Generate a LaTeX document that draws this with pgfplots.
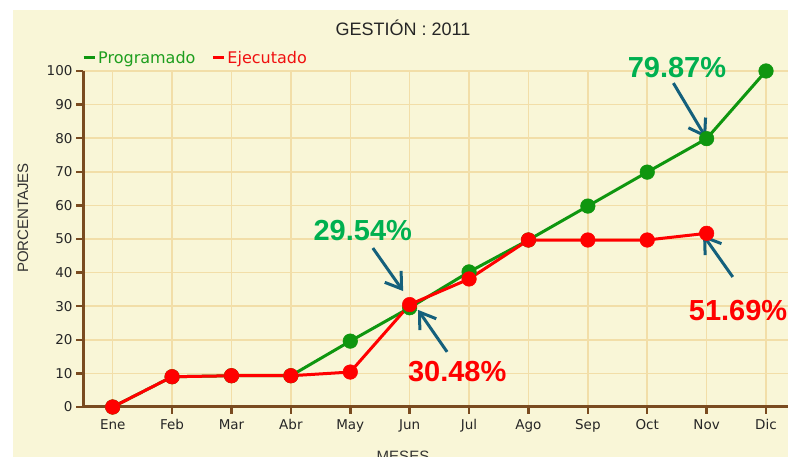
\documentclass[border=0pt]{standalone}
\usepackage{fontspec}
\setmainfont{DejaVu Sans}
\newfontfamily\arialfont{Liberation Sans}
\usepackage{pgfplots}
\pgfplotsset{compat=1.18}
\usetikzlibrary{arrows.meta}
\definecolor{bgcream}{HTML}{F9F6D7}
\definecolor{gridc}{HTML}{F2DEA8}
\definecolor{axbrown}{HTML}{7A4B20}
\definecolor{pgreen}{HTML}{0F960F}
\definecolor{pred}{HTML}{FF0000}
\definecolor{anngreen}{HTML}{00B050}
\definecolor{arrowc}{HTML}{14607C}
\definecolor{legred}{HTML}{F01010}
\definecolor{leggreen}{HTML}{1E9E1E}
\pgfplotstableread{
x prog ejec
0 0 0
1 9 9
2 9.3 9.3
3 9.3 9.3
4 19.6 10.4
5 29.54 30.48
6 40.2 38.1
7 49.7 49.7
8 59.8 49.7
9 69.9 49.7
10 79.87 51.69
11 100 nan
}\datatable
\begin{document}
\begin{tikzpicture}
\useasboundingbox (0pt,0pt) rectangle (788pt,457pt);
\fill[white] (0pt,0pt) rectangle (788pt,457pt);
\fill[bgcream] (13pt,0pt) rectangle (788pt,447pt);
\node[font=\arialfont\fontsize{18}{20}\selectfont, text=black!85] at (403pt,429pt) {GESTIÓN : 2011};
\node[font=\arialfont\fontsize{15}{17}\selectfont, text=black!80, rotate=90] at (23pt,239pt) {PORCENTAJES};
\node[font=\arialfont\fontsize{15}{17}\selectfont, text=black!80, anchor=north] at (403pt,10pt) {MESES};
\begin{axis}[
  at={(83pt,50pt)}, anchor=south west,
  scale only axis, width=705pt, height=336pt,
  xmin=-0.5, xmax=11.37, ymin=0, ymax=100,
  xtick={0,...,11},
  xticklabels={Ene,Feb,Mar,Abr,May,Jun,Jul,Ago,Sep,Oct,Nov,Dic},
  ytick={0,10,...,100},
  axis lines=left,
  axis line style={-, draw=axbrown, line width=3pt},
  grid=major,
  major grid style={draw=gridc, line width=1.5pt},
  tick style={draw=axbrown, line width=2.5pt},
  major tick length=7pt,
  tick align=outside,
  ticklabel style={font=\fontsize{13.5}{15}\selectfont, text=black!85},
  /pgf/number format/assume math mode=true,
  xticklabel style={yshift=-2pt},
  clip=false,
  legend columns=2,
  legend style={at={(0,1)}, anchor=south west, draw=none, fill=none,
    xshift=-1pt, yshift=4pt, inner sep=0pt,
    font=\fontsize{16}{18}\selectfont,
    /tikz/every even column/.append style={column sep=14pt}},
  legend cell align=left,
  legend image code/.code={\draw[#1,line width=3pt] (0pt,0pt) -- (11pt,0pt);},
]
\addplot[pgreen, line width=3pt, mark=*, mark size=7.3pt, mark options={solid, fill=pgreen, draw=pgreen, line width=0.5pt}] table[x=x,y=prog] {\datatable};
\addlegendentry{\textcolor{leggreen}{Programado}}
\addplot[pred, line width=3pt, mark=*, mark size=7.3pt, mark options={solid, fill=pred, draw=pred, line width=0.5pt}, unbounded coords=discard] table[x=x,y=ejec] {\datatable};
\addlegendentry{\textcolor{legred}{Ejecutado}}
\node[font=\arialfont\bfseries\fontsize{29}{31}\selectfont, text=anngreen] at (axis cs:9.5,100.9) {79.87\%};
\node[font=\arialfont\bfseries\fontsize{29}{31}\selectfont, text=anngreen] at (axis cs:4.21,52.4) {29.54\%};
\node[font=\arialfont\bfseries\fontsize{29}{31}\selectfont, text=pred] at (axis cs:5.8,10.7) {30.48\%};
\node[font=\arialfont\bfseries\fontsize{29}{31}\selectfont, text=pred] at (axis cs:10.53,28.6) {51.69\%};
\tikzset{annarrow/.style={arrowc, line width=3pt, -{Straight Barb[length=15pt,width=20pt]}}}
\draw[annarrow] (axis cs:9.44,96.4) -- (axis cs:9.99,80.1);
\draw[annarrow] (axis cs:4.38,47.3) -- (axis cs:4.89,34.5);
\draw[annarrow] (axis cs:5.63,16.4) -- (axis cs:5.14,28.9);
\draw[annarrow] (axis cs:10.44,38.7) -- (axis cs:9.94,51.2);
\end{axis}
\end{tikzpicture}
\end{document}
